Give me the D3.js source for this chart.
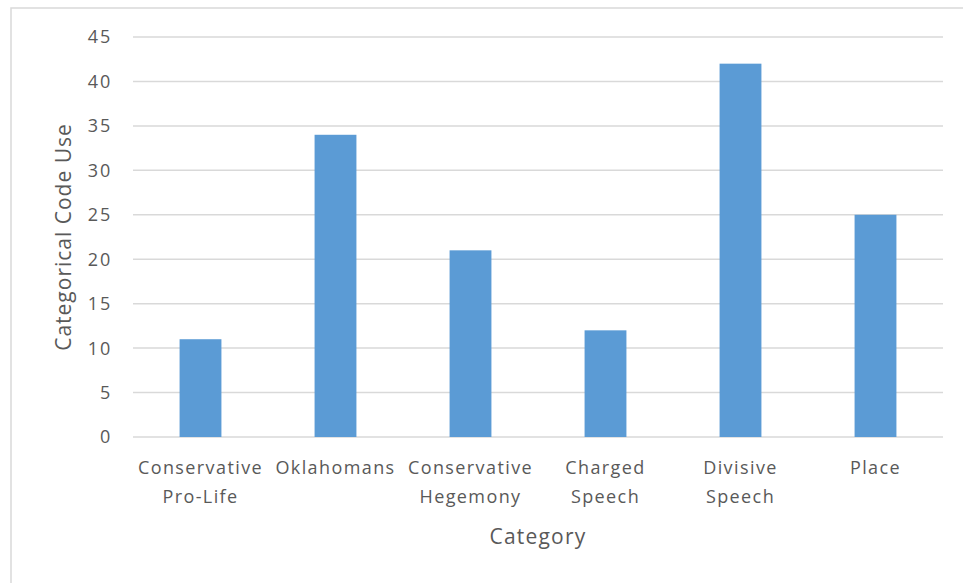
<!DOCTYPE html>
<html>
<head>
<meta charset="utf-8">
<script src="https://cdn.jsdelivr.net/npm/d3@7"></script>
<style>
  html, body { margin: 0; padding: 0; background: #fff; }
  svg { display: block; font-family: "Open Sans", "Noto Sans", sans-serif; }
</style>
</head>
<body>
<svg id="chart" width="963" height="583"></svg>
<script>
// Category labels (line-broken as drawn under the axis)
const categories = [
  ["Conservative", "Pro-Life"],
  ["Oklahomans"],
  ["Conservative", "Hegemony"],
  ["Charged", "Speech"],
  ["Divisive", "Speech"],
  ["Place"]
];
const values = [11, 34, 21, 12, 42, 25];
const yTicks = [0, 5, 10, 15, 20, 25, 30, 35, 40, 45];

const svg = d3.select("#chart");
const W = 963, H = 583;
const plot = { left: 133, right: 943, top: 37, bottom: 437 };
const textColor = "#595959";

// Outer frame of the chart area
svg.append("rect")
  .attr("x", 11).attr("y", 8)
  .attr("width", W).attr("height", H)
  .attr("fill", "#fff")
  .attr("stroke", "#d9d9d9").attr("stroke-width", 1.5);

const keys = categories.map((c, i) => i);
const x = d3.scaleBand()
  .domain(keys)
  .range([plot.left, plot.right])
  .paddingInner(0.69).paddingOuter(0.345);

const y = d3.scaleLinear().domain([0, 45]).range([plot.bottom, plot.top]);

// Horizontal gridlines
svg.append("g")
  .selectAll("line")
  .data(yTicks)
  .join("line")
  .attr("x1", plot.left).attr("x2", plot.right)
  .attr("y1", d => y(d)).attr("y2", d => y(d))
  .attr("stroke", "#d9d9d9").attr("stroke-width", 1.5);

// Y tick labels
svg.append("g")
  .selectAll("text")
  .data(yTicks)
  .join("text")
  .attr("x", 112).attr("y", d => y(d))
  .attr("dy", "0.36em")
  .attr("text-anchor", "end")
  .attr("font-size", 18)
  .attr("letter-spacing", 1.8)
  .attr("fill", textColor)
  .text(d => d);

// Bars
svg.append("g")
  .selectAll("rect")
  .data(values)
  .join("rect")
  .attr("x", (d, i) => x(i))
  .attr("width", x.bandwidth())
  .attr("y", d => y(d))
  .attr("height", d => y(0) - y(d))
  .attr("fill", "#5b9bd5");

// Category labels
const catG = svg.append("g");
categories.forEach((lines, i) => {
  const cx = x(i) + x.bandwidth() / 2;
  const t = catG.append("text")
    .attr("text-anchor", "middle")
    .attr("font-size", 18)
    .attr("letter-spacing", 1.4)
    .attr("fill", textColor);
  lines.forEach((ln, j) => {
    t.append("tspan").attr("x", cx).attr("y", 474 + j * 29).text(ln);
  });
});

// Axis titles
svg.append("text")
  .attr("x", (plot.left + plot.right) / 2).attr("y", 544)
  .attr("text-anchor", "middle")
  .attr("font-size", 21)
  .attr("letter-spacing", 1.2)
  .attr("fill", textColor)
  .text("Category");

svg.append("text")
  .attr("transform", `translate(71, ${(plot.top + plot.bottom) / 2}) rotate(-90)`)
  .attr("text-anchor", "middle")
  .attr("font-size", 21)
  .attr("letter-spacing", 1)
  .attr("fill", textColor)
  .text("Categorical Code Use");
</script>
</body>
</html>
